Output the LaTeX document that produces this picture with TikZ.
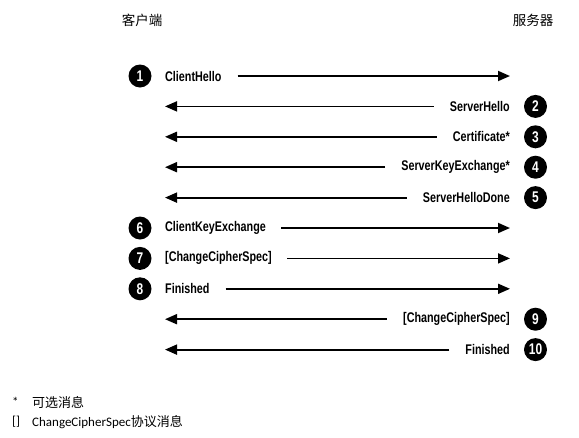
\documentclass[tikz,border=0pt]{standalone}
\usepackage{fontspec}
\usetikzlibrary{arrows.meta}
\newfontfamily\lblfont[FakeStretch=0.77]{Liberation Sans}
\newfontfamily\cjkfont{Noto Sans CJK SC}
\newfontfamily\notefont{Carlito}
\begin{document}
\begin{tikzpicture}[x=1pt,y=-1pt,
  msg/.style={line width=1.8pt,-{Triangle[length=12pt,width=10pt]}},
  lbl/.style={inner sep=0pt,font=\lblfont\bfseries\fontsize{14}{16}\selectfont},
  num/.style={circle,fill=black,text=white,minimum size=23pt,inner sep=0pt,
    font=\lblfont\bfseries\fontsize{15.5}{16}\selectfont},
  head/.style={inner sep=0pt,font=\cjkfont\fontsize{13.5}{15}\selectfont},
  note/.style={inner sep=0pt,anchor=west,font=\notefont\fontsize{13}{15}\selectfont}]
\useasboundingbox (0,0) rectangle (579,437);
\node[head] (client) at (142,20) {客户端};
\node[head] (server) at (533,20) {服务器};
% rows
\foreach \i/\y in {1/76,2/106.4,3/136.8,4/167.2,5/197.6,6/228,7/258.4,8/288.8,9/319.2,10/349.6}{
  \coordinate (L\i) at (165,\y);
  \coordinate (R\i) at (510,\y);
}
% client -> server
\node[num] (n1) at (140,76) {1};
\node[lbl,anchor=west] (t1) at (L1) {ClientHello};
\draw[msg,shorten <=16pt] (t1.east) -- (R1);
\node[num] (n6) at (140,228) {6};
\node[lbl,anchor=west] (t6) at (L6) {ClientKeyExchange};
\draw[msg,shorten <=15pt] (t6.east) -- (R6);
\node[num] (n7) at (140,258.4) {7};
\node[lbl,anchor=west] (t7) at (L7) {[ChangeCipherSpec]};
\draw[msg,shorten <=15pt] (t7.east) -- (R7);
\node[num] (n8) at (140,288.8) {8};
\node[lbl,anchor=west] (t8) at (L8) {Finished};
\draw[msg,shorten <=16pt] (t8.east) -- (R8);
% server -> client
\node[num] (n2) at (535.5,106.4) {2};
\node[lbl,anchor=east] (t2) at (R2) {ServerHello};
\draw[msg,shorten <=16pt] (t2.west) -- (L2);
\node[num] (n3) at (535.5,136.8) {3};
\node[lbl,anchor=east] (t3) at (R3) {Certificate*};
\draw[msg,shorten <=16pt] (t3.west) -- (L3);
\node[num] (n4) at (535.5,167.2) {4};
\node[lbl,anchor=east] (t4) at (R4) {ServerKeyExchange*};
\draw[msg,shorten <=16pt] (t4.west) -- (L4);
\node[num] (n5) at (535.5,197.6) {5};
\node[lbl,anchor=east] (t5) at (R5) {ServerHelloDone};
\draw[msg,shorten <=16pt] (t5.west) -- (L5);
\node[num] (n9) at (535.5,319.2) {9};
\node[lbl,anchor=east] (t9) at (R9) {[ChangeCipherSpec]};
\draw[msg,shorten <=16pt] (t9.west) -- (L9);
\node[num] (n10) at (535.5,349.6) {10};
\node[lbl,anchor=east] (t10) at (R10) {Finished};
\draw[msg,shorten <=16pt] (t10.west) -- (L10);
% notes
\node[note] (s1) at (12,402) {*};
\node[note] (s2) at (32,402) {\cjkfont 可选消息};
\node[note] (b1) at (12,422) {[]};
\node[note] (b2) at (32,422) {ChangeCipherSpec{\cjkfont 协议消息}};
\end{tikzpicture}
\end{document}
